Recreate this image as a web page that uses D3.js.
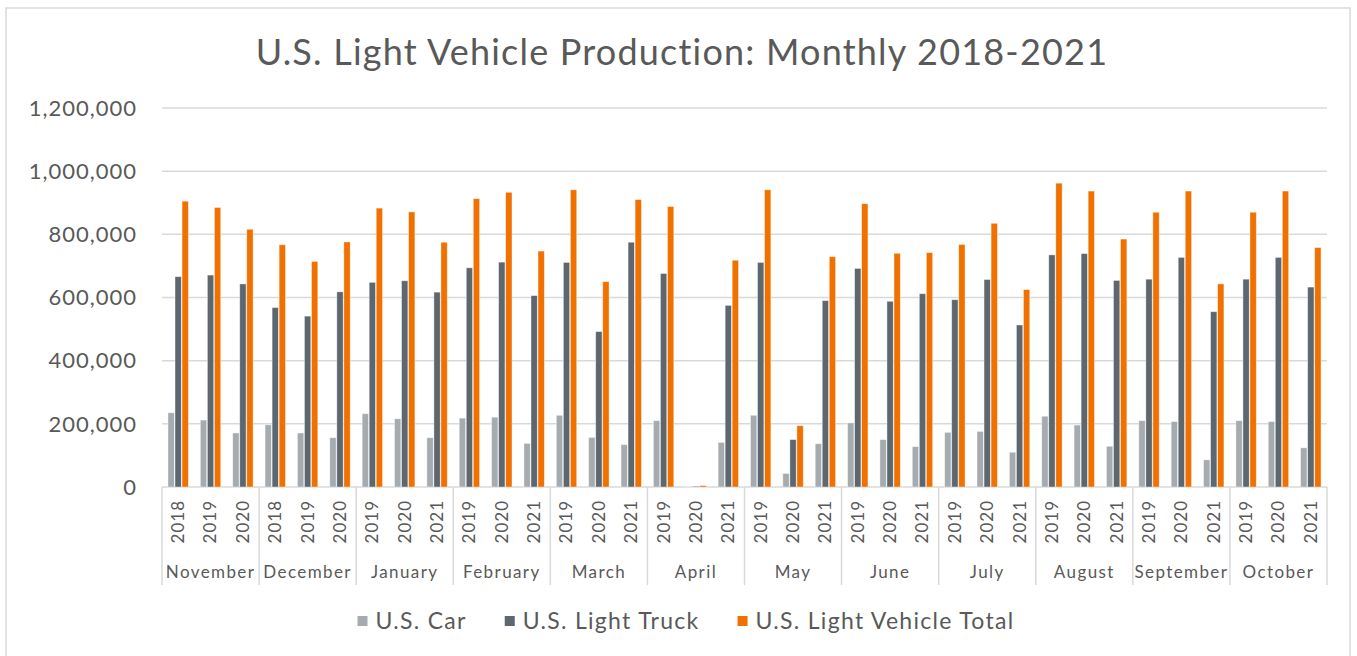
<!DOCTYPE html>
<html>
<head>
<meta charset="utf-8">
<script src="https://cdn.jsdelivr.net/npm/d3@7"></script>
<style>
  body { margin: 0; background: #fff; }
  text { font-family: "Lato", sans-serif; fill: #595959; }
</style>
</head>
<body>
<svg id="chart"></svg>
<script>
var months = ["November", "December", "January", "February", "March", "April",
  "May", "June", "July", "August", "September", "October"];

var years = [
  ["2018", "2019", "2020"], ["2018", "2019", "2020"], ["2019", "2020", "2021"],
  ["2019", "2020", "2021"], ["2019", "2020", "2021"], ["2019", "2020", "2021"],
  ["2019", "2020", "2021"], ["2019", "2020", "2021"], ["2019", "2020", "2021"],
  ["2019", "2020", "2021"], ["2019", "2020", "2021"], ["2019", "2020", "2021"]
];

var seriesNames = ["U.S. Car", "U.S. Light Truck", "U.S. Light Vehicle Total"];

var car = [235000, 212000, 171000, 197000, 171000, 156000, 232000, 216000, 156000,
  218000, 221000, 138000, 227000, 157000, 134000, 210000, 1500, 141000,
  227000, 43000, 137000, 203000, 150000, 128000, 173000, 176000, 110000,
  224000, 196000, 129000, 210000, 207000, 86000, 210000, 207000, 124000];

var truck = [666000, 671000, 643000, 568000, 541000, 618000, 648000, 653000, 617000,
  694000, 712000, 606000, 711000, 492000, 775000, 676000, 2500, 575000,
  711000, 150000, 590000, 692000, 588000, 612000, 593000, 657000, 513000,
  735000, 739000, 654000, 658000, 727000, 555000, 658000, 727000, 633000];

var total = [905000, 885000, 816000, 767000, 714000, 776000, 883000, 871000, 775000,
  913000, 933000, 747000, 941000, 650000, 910000, 888000, 4500, 718000,
  941000, 194000, 729000, 897000, 740000, 742000, 768000, 835000, 625000,
  962000, 937000, 785000, 870000, 937000, 643000, 870000, 937000, 758000];

var yTicks = [0, 200000, 400000, 600000, 800000, 1000000, 1200000];

(function () {
  var width = 1357, height = 656;
  var plotLeft = 162, plotRight = 1327, plotTop = 108, plotBottom = 487;

  var svg = d3.select("#chart").attr("width", width).attr("height", height);

  // chart frame
  svg.append("rect")
    .attr("x", 6).attr("y", 8)
    .attr("width", 1344).attr("height", 660)
    .attr("fill", "#fff")
    .attr("stroke", "#d9d9d9")
    .attr("stroke-width", 1.5);

  var color = d3.scaleOrdinal()
    .domain(seriesNames)
    .range(["#a5abae", "#5d6770", "#f07000"]);

  // one row per month/year category
  var rows = [];
  months.forEach(function (m, i) {
    years[i].forEach(function (yr, j) {
      var k = i * 3 + j;
      rows.push({ key: m + "|" + yr, month: m, year: yr, values: [car[k], truck[k], total[k]] });
    });
  });

  var x0 = d3.scaleBand()
    .domain(rows.map(function (d) { return d.key; }))
    .range([plotLeft, plotRight]);

  var bw = x0.bandwidth();
  var x1 = d3.scaleBand()
    .domain(seriesNames)
    .range([bw * 0.185, bw * 0.815])
    .paddingInner(0.1);

  var xm = d3.scaleBand().domain(months).range([plotLeft, plotRight]);

  var y = d3.scaleLinear().domain([0, 1200000]).range([plotBottom, plotTop]);

  // gridlines
  svg.append("g")
    .selectAll("line")
    .data(yTicks)
    .enter()
    .append("line")
    .attr("x1", plotLeft).attr("x2", plotRight)
    .attr("y1", function (d) { return y(d); })
    .attr("y2", function (d) { return y(d); })
    .attr("stroke", "#d9d9d9")
    .attr("stroke-width", 1.5);

  // y labels
  svg.append("g")
    .selectAll("text")
    .data(yTicks)
    .enter()
    .append("text")
    .attr("x", 137)
    .attr("y", function (d) { return y(d); })
    .attr("dy", "0.35em")
    .attr("text-anchor", "end")
    .style("font-size", "22px")
    .style("letter-spacing", "1px")
    .text(function (d) { return d3.format(",")(d); });

  // bars
  var grp = svg.append("g")
    .selectAll("g")
    .data(rows)
    .enter()
    .append("g")
    .attr("transform", function (d) { return "translate(" + x0(d.key) + ",0)"; });

  grp.selectAll("rect")
    .data(function (d) {
      return seriesNames.map(function (s, i) { return { name: s, value: d.values[i] }; });
    })
    .enter()
    .append("rect")
    .attr("x", function (d) { return x1(d.name); })
    .attr("width", x1.bandwidth())
    .attr("y", function (d) { return y(d.value); })
    .attr("height", function (d) { return plotBottom - y(d.value); })
    .attr("fill", function (d) { return color(d.name); })
    .attr("stroke", "#fff")
    .attr("stroke-opacity", 0.5)
    .attr("stroke-width", 0.8);

  // month separators
  svg.append("g")
    .selectAll("line")
    .data(d3.range(months.length + 1))
    .enter()
    .append("line")
    .attr("x1", function (i) { return plotLeft + i * xm.step(); })
    .attr("x2", function (i) { return plotLeft + i * xm.step(); })
    .attr("y1", plotBottom).attr("y2", 585)
    .attr("stroke", "#d9d9d9")
    .attr("stroke-width", 1.5);

  // year labels
  svg.append("g")
    .selectAll("text")
    .data(rows)
    .enter()
    .append("text")
    .attr("transform", function (d) {
      return "translate(" + (x0(d.key) + bw / 2) + ",500) rotate(-90)";
    })
    .attr("dy", "0.35em")
    .attr("text-anchor", "end")
    .style("font-size", "17px")
    .style("letter-spacing", "1px")
    .text(function (d) { return d.year; });

  // month labels
  svg.append("g")
    .selectAll("text")
    .data(months)
    .enter()
    .append("text")
    .attr("x", function (d) { return xm(d) + xm.bandwidth() / 2; })
    .attr("y", 578)
    .attr("text-anchor", "middle")
    .style("font-size", "17px")
    .style("letter-spacing", "1.4px")
    .text(function (d) { return d; });

  // title
  svg.append("text")
    .attr("x", 682)
    .attr("y", 65)
    .attr("text-anchor", "middle")
    .style("font-size", "36px")
    .style("letter-spacing", "1.2px")
    .text("U.S. Light Vehicle Production: Monthly 2018-2021");

  // legend
  var legend = svg.append("g").attr("class", "legend");
  var lx = 0;
  seriesNames.forEach(function (s) {
    var item = legend.append("g").attr("transform", "translate(" + lx + ",0)");
    item.append("rect")
      .attr("x", 0).attr("y", -5)
      .attr("width", 10).attr("height", 10)
      .attr("fill", color(s));
    var t = item.append("text")
      .attr("x", 18).attr("dy", "0.35em")
      .style("font-size", "23px")
      .style("letter-spacing", "1.3px")
      .text(s);
    lx += 18 + t.node().getComputedTextLength() + 38;
  });
  var lw = lx - 38;
  legend.attr("transform", "translate(" + (686 - lw / 2) + ",621)");
})();
</script>
</body>
</html>
